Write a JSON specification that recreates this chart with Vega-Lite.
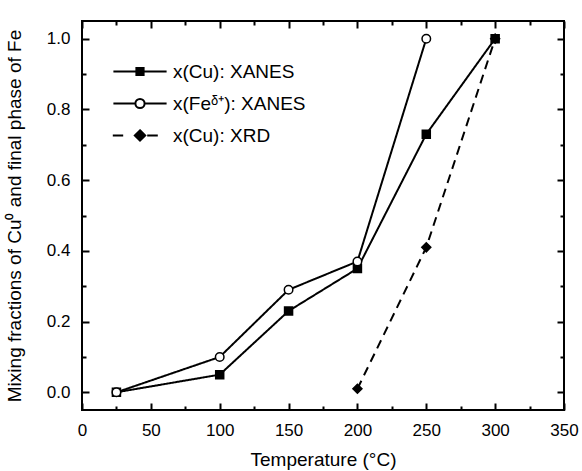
{
  "$schema": "https://vega.github.io/schema/vega-lite/v6.json",
  "autosize": "none",
  "padding": {"left": 82, "top": 21, "right": 18, "bottom": 61},
  "width": 482,
  "height": 389,
  "config": {
    "font": "Liberation Sans",
    "view": {"stroke": "black", "strokeWidth": 2},
    "axis": {
      "domain": false, "grid": false, "labelFlush": false,
      "labelFont": "Liberation Sans", "labelFontSize": 17, "labelColor": "black",
      "titleFont": "Liberation Sans", "titleFontSize": 19, "titleFontWeight": "normal", "titleColor": "black"
    }
  },
  "data": {
    "values": [
      {"T": 25, "v": 0.0, "s": "x(Cu): XANES"},
      {"T": 100, "v": 0.05, "s": "x(Cu): XANES"},
      {"T": 150, "v": 0.23, "s": "x(Cu): XANES"},
      {"T": 200, "v": 0.35, "s": "x(Cu): XANES"},
      {"T": 250, "v": 0.73, "s": "x(Cu): XANES"},
      {"T": 300, "v": 1.0, "s": "x(Cu): XANES"},
      {"T": 25, "v": 0.0, "s": "x(Feᵟ⁺): XANES"},
      {"T": 100, "v": 0.10, "s": "x(Feᵟ⁺): XANES"},
      {"T": 150, "v": 0.29, "s": "x(Feᵟ⁺): XANES"},
      {"T": 200, "v": 0.37, "s": "x(Feᵟ⁺): XANES"},
      {"T": 250, "v": 1.0, "s": "x(Feᵟ⁺): XANES"},
      {"T": 200, "v": 0.01, "s": "x(Cu): XRD"},
      {"T": 250, "v": 0.41, "s": "x(Cu): XRD"},
      {"T": 300, "v": 1.0, "s": "x(Cu): XRD"}
    ]
  },
  "layer": [
    {
      "mark": {"type": "line", "color": "black", "strokeWidth": 2},
      "encoding": {
        "x": {"field": "T", "type": "quantitative", "scale": {"domain": [0, 350], "nice": false, "zero": false}, "axis": null},
        "y": {"field": "v", "type": "quantitative", "scale": {"domain": [-0.05, 1.05], "nice": false, "zero": false}, "axis": null},
        "detail": {"field": "s"},
        "strokeDash": {"field": "s", "type": "nominal",
          "scale": {"domain": ["x(Cu): XANES", "x(Feᵟ⁺): XANES", "x(Cu): XRD"], "range": [[1, 0], [1, 0], [9, 6]]},
          "legend": null}
      }
    },
    {
      "mark": {"type": "point", "stroke": "black", "strokeWidth": 1.5, "opacity": 1},
      "encoding": {
        "x": {"field": "T", "type": "quantitative",
          "axis": {"orient": "bottom", "title": "Temperature (°C)",
            "values": [0,50,100,150,200,250,300,350], "format": "d",
            "ticks": true, "tickOpacity": 1, "tickSize": 7, "offset": -7, "tickColor": "black", "tickWidth": 2,
            "labelPadding": 12, "titlePadding": 12}},
        "y": {"field": "v", "type": "quantitative",
          "axis": {"orient": "left", "title": "Mixing fractions of Cu⁰ and final phase of Fe",
            "values": [0,0.2,0.4,0.6,0.8,1.0], "format": ".1f",
            "ticks": true, "tickOpacity": 1, "tickSize": 7, "offset": -7, "tickColor": "black", "tickWidth": 2,
            "labelPadding": 12, "titlePadding": 22}},
        "shape": {"field": "s", "type": "nominal",
          "scale": {"domain": ["x(Cu): XANES", "x(Feᵟ⁺): XANES", "x(Cu): XRD"], "range": ["square", "circle", "diamond"]},
          "legend": null},
        "fill": {"field": "s", "type": "nominal",
          "scale": {"domain": ["x(Cu): XANES", "x(Feᵟ⁺): XANES", "x(Cu): XRD"], "range": ["black", "white", "black"]},
          "legend": null},
        "size": {"field": "s", "type": "nominal",
          "scale": {"domain": ["x(Cu): XANES", "x(Feᵟ⁺): XANES", "x(Cu): XRD"], "range": [64, 81, 110]},
          "legend": null}
      }
    },
    {
      "mark": {"type": "point", "stroke": "black", "opacity": 0},
      "encoding": {
        "x": {"field": "T", "type": "quantitative",
          "axis": {"orient": "top", "labels": false, "title": null,
            "values": [0,50,100,150,200,250,300,350],
            "ticks": true, "tickOpacity": 1, "tickSize": 7, "offset": -7, "tickColor": "black", "tickWidth": 2}},
        "y": {"field": "v", "type": "quantitative",
          "axis": {"orient": "right", "labels": false, "title": null,
            "values": [0,0.2,0.4,0.6,0.8,1.0],
            "ticks": true, "tickOpacity": 1, "tickSize": 7, "offset": -7, "tickColor": "black", "tickWidth": 2}},
        "shape": {"field": "s", "type": "nominal",
          "scale": {"domain": ["x(Cu): XANES", "x(Feᵟ⁺): XANES", "x(Cu): XRD"],
            "range": [
              "M-6.65,0H6.65M-0.9,-0.9H0.9V0.9H-0.9Z",
              "M-6.65,0H-1.15M1.15,0H6.65M-1.15,0A1.15,1.15,0,1,0,1.15,0A1.15,1.15,0,1,0,-1.15,0Z",
              "M-6.8,0H-4.2M1.8,0H4.45M0,-1.3L1.3,0L0,1.3L-1.3,0Z"
            ]},
          "legend": {"title": null, "orient": "none", "legendX": 48.5, "legendY": 41, "padding": 0,
            "symbolSize": 64, "symbolOpacity": 1, "symbolStrokeColor": "black", "symbolStrokeWidth": 2,
            "labelFont": "Liberation Sans", "labelFontSize": 19, "labelColor": "black",
            "labelOffset": 23.5, "rowPadding": 12,
            "encode": {"symbols": {"update": {"stroke": {"value": "black"}, "strokeWidth": {"value": 2}, "opacity": {"value": 1}, "strokeOpacity": {"value": 1}}}}}},
        "fill": {"field": "s", "type": "nominal",
          "scale": {"domain": ["x(Cu): XANES", "x(Feᵟ⁺): XANES", "x(Cu): XRD"], "range": ["black", "white", "black"]},
          "legend": {"title": null, "orient": "none", "legendX": 48.5, "legendY": 41, "padding": 0,
            "symbolSize": 64, "symbolOpacity": 1, "symbolStrokeColor": "black", "symbolStrokeWidth": 2,
            "labelFont": "Liberation Sans", "labelFontSize": 19, "labelColor": "black",
            "labelOffset": 23.5, "rowPadding": 12,
            "encode": {"symbols": {"update": {"stroke": {"value": "black"}, "strokeWidth": {"value": 2}, "opacity": {"value": 1}, "strokeOpacity": {"value": 1}}}}}}
      }
    },
    {
      "mark": {"type": "point", "opacity": 0},
      "encoding": {
        "x": {"field": "T", "type": "quantitative",
          "axis": {"orient": "bottom", "labels": false, "title": null,
            "values": [25,75,125,175,225,275,325],
            "ticks": true, "tickOpacity": 1, "tickSize": 4, "offset": -4, "tickColor": "black", "tickWidth": 2}},
        "y": {"field": "v", "type": "quantitative",
          "axis": {"orient": "left", "labels": false, "title": null,
            "values": [0.1,0.3,0.5,0.7,0.9],
            "ticks": true, "tickOpacity": 1, "tickSize": 4, "offset": -4, "tickColor": "black", "tickWidth": 2}}
      }
    },
    {
      "mark": {"type": "point", "opacity": 0},
      "encoding": {
        "x": {"field": "T", "type": "quantitative",
          "axis": {"orient": "top", "labels": false, "title": null,
            "values": [25,75,125,175,225,275,325],
            "ticks": true, "tickOpacity": 1, "tickSize": 4, "offset": -4, "tickColor": "black", "tickWidth": 2}},
        "y": {"field": "v", "type": "quantitative",
          "axis": {"orient": "right", "labels": false, "title": null,
            "values": [0.1,0.3,0.5,0.7,0.9],
            "ticks": true, "tickOpacity": 1, "tickSize": 4, "offset": -4, "tickColor": "black", "tickWidth": 2}}
      }
    }
  ],
  "resolve": {
    "axis": {"x": "independent", "y": "independent"},
    "scale": {"shape": "independent", "fill": "independent"}
  }
}
